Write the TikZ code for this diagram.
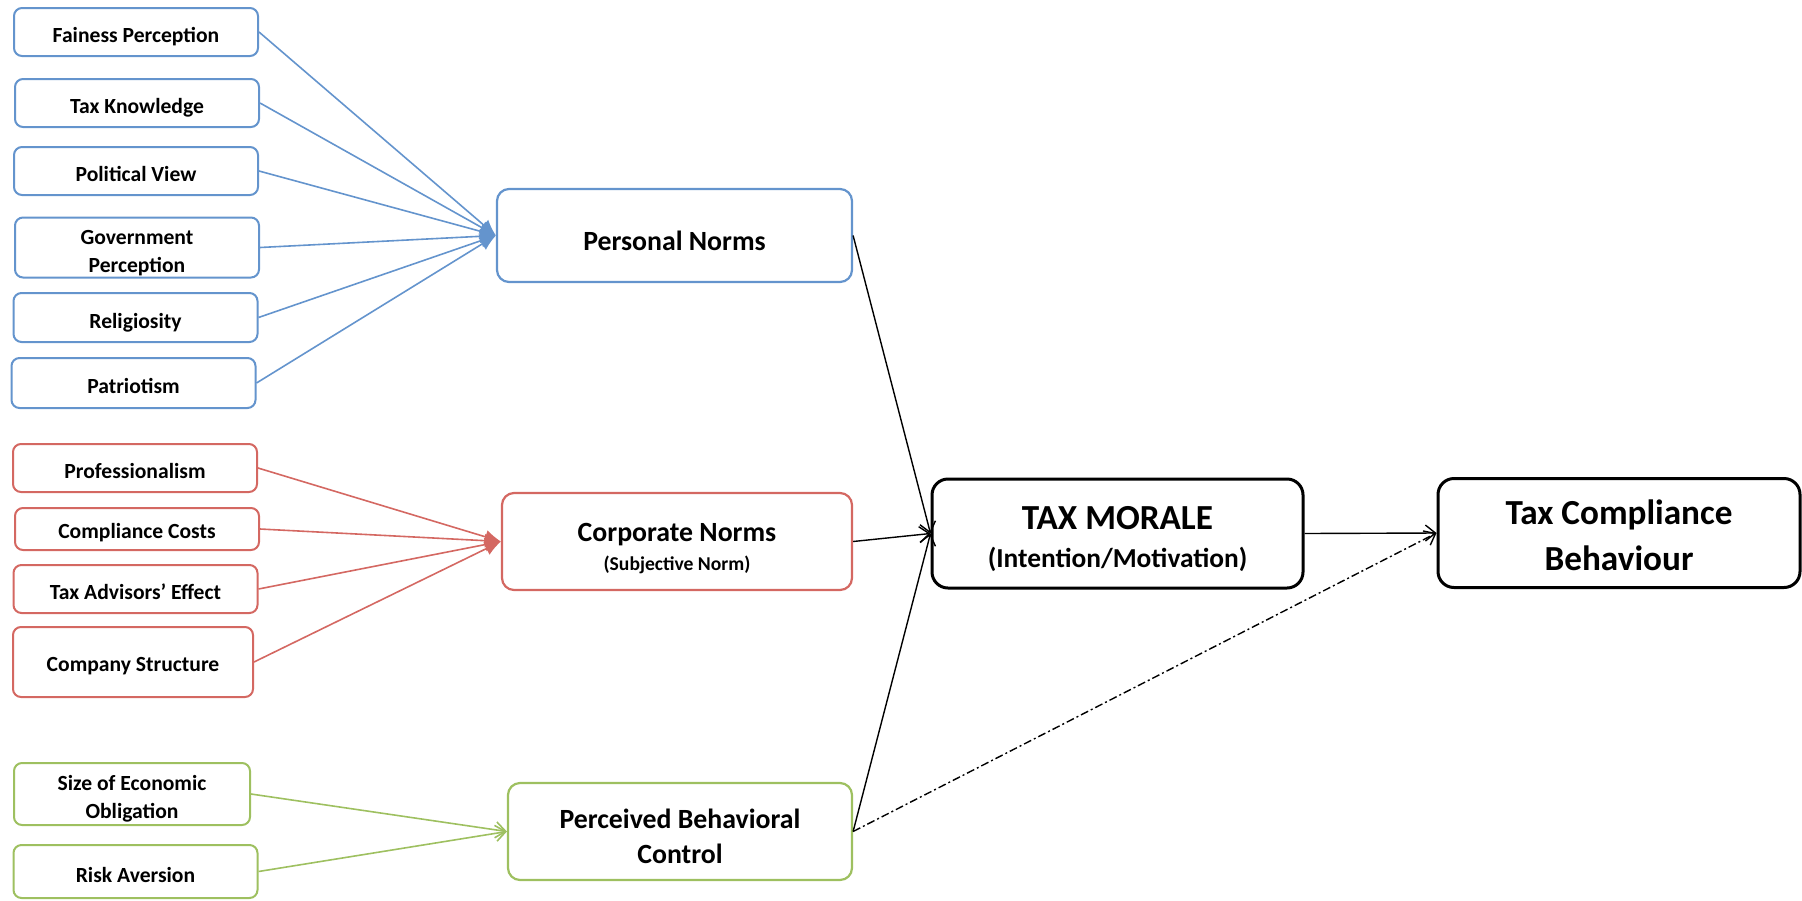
\documentclass[tikz,border=0pt]{standalone}
\usepackage{fontspec}
\setmainfont{Carlito}
\usetikzlibrary{shapes}
\usetikzlibrary{arrows.meta}

\definecolor{persblue}{RGB}{100,148,205}
\definecolor{corpred}{RGB}{212,104,98}
\definecolor{ctrlgreen}{RGB}{158,192,96}

\newcommand{\boxtext}[2][2.5pt]{\raisebox{-#1}[\height][\depth]{\begin{tabular}{@{}c@{}}#2\end{tabular}}}

\begin{document}
\begin{tikzpicture}[x=0.5pt,y=-0.5pt]
	\tikzstyle{factor}=[draw,fill=white,rounded corners=4pt,line width=1pt,minimum width=122pt,inner sep=1pt,font=\bfseries\fontsize{10.8}{14}\selectfont]
	\tikzstyle{pfactor}=[factor,draw=persblue]
	\tikzstyle{cfactor}=[factor,draw=corpred]
	\tikzstyle{gfactor}=[factor,draw=ctrlgreen]
	\tikzstyle{norm}=[draw,fill=white,rounded corners=6pt,line width=1.1pt,inner sep=1pt,font=\bfseries\fontsize{13.9}{17.5}\selectfont]
	\tikzstyle{outcome}=[draw=black,fill=white,rounded corners=8pt,line width=1.5pt,inner sep=1pt,minimum height=54.5pt,font=\bfseries\fontsize{17.6}{19}\selectfont]
	\tikzstyle{plink}=[persblue,line width=0.8pt,-{Latex[length=8pt,width=7pt]}]
	\tikzstyle{clink}=[corpred,line width=0.8pt,-{Latex[length=8pt,width=7pt]}]
	\tikzstyle{glink}=[ctrlgreen,line width=0.8pt,-{Straight Barb[length=5pt,width=8pt]}]
	\tikzstyle{mlink}=[black,line width=0.7pt,-{Straight Barb[length=5pt,width=8pt]}]

	\useasboundingbox (0,0) rectangle (1802,900);

	\node[pfactor,minimum height=24pt] (fair) at (136,32) {\boxtext{Fainess Perception}};
	\node[pfactor,minimum height=24pt] (know) at (137,103) {\boxtext{Tax Knowledge}};
	\node[pfactor,minimum height=24pt] (polit) at (136,171) {\boxtext{Political View}};
	\node[pfactor,minimum height=29.5pt] (govt) at (137,247.5) {\boxtext{Government\\Perception}};
	\node[pfactor,minimum height=24.5pt] (relig) at (135.5,317.5) {\boxtext{Religiosity}};
	\node[pfactor,minimum height=25pt] (patr) at (133.5,383) {\boxtext{Patriotism}};

	\node[cfactor,minimum height=24pt] (prof) at (135,468) {\boxtext{Professionalism}};
	\node[cfactor,minimum height=21pt] (costs) at (137,529) {\boxtext[2pt]{Compliance Costs}};
	\node[cfactor,minimum height=24pt] (advis) at (135.5,589) {\boxtext{Tax Advisors' Effect}};
	\node[cfactor,minimum width=120pt,minimum height=35pt] (struct) at (133,662) {\boxtext[2pt]{Company Structure}};

	\node[gfactor,minimum width=118pt,minimum height=31pt] (oblig) at (132,794) {\boxtext{Size of Economic\\Obligation}};
	\node[gfactor,minimum height=26.5pt] (risk) at (135.5,871.5) {\boxtext{Risk Aversion}};

	\node[norm,draw=persblue,minimum width=177.5pt,minimum height=46.5pt] (pers) at (674.5,235.5) {\boxtext[4pt]{Personal Norms}};
	\node[norm,draw=corpred,minimum width=175pt,minimum height=48.5pt] (corp) at (677,541.5) {\boxtext[3.8pt]{Corporate Norms\\[-2.8pt]{\fontsize{9.8}{12}\selectfont(Subjective Norm)}}};
	\node[norm,draw=ctrlgreen,minimum width=172pt,minimum height=48.5pt] (pbc) at (680,831.5) {\boxtext[3.5pt]{Perceived Behavioral\\Control}};

	\node[outcome,minimum width=185.5pt] (morale) at (1117.5,533.5) {\boxtext[3.5pt]{TAX MORALE\\{\fontsize{13.7}{16}\selectfont(Intention/Motivation)}}};
	\node[outcome,minimum width=181pt] (behav) at (1619,533) {\boxtext[3.5pt]{Tax Compliance\\[4pt]Behaviour}};

	\foreach \src in {fair,know,polit,govt,relig,patr}
		\draw[plink] (\src.east) -- (pers.west);
	\foreach \src in {prof,costs,advis,struct}
		\draw[clink] (\src.east) -- (corp.west);
	\foreach \src in {oblig,risk}
		\draw[glink] (\src.east) -- (pbc.west);

	\draw[mlink] (pers.east) -- (morale.west);
	\draw[mlink] (corp.east) -- (morale.west);
	\draw[mlink] (pbc.east) -- (morale.west);
	\draw[mlink] (morale.east) -- (behav.west);
	\draw[mlink,dash pattern=on 4pt off 1.5pt on 1pt off 1.5pt] (pbc.east) -- (behav.west);
\end{tikzpicture}
\end{document}
